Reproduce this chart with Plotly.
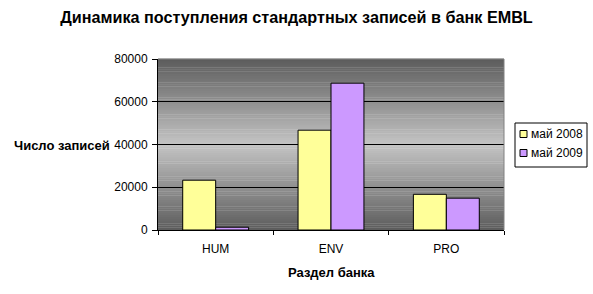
import plotly.graph_objects as go

categories = ["HUM", "ENV", "PRO"]
series_2008 = [23300, 46700, 16700]
series_2009 = [1300, 68700, 14900]
series_names = ["май 2008", "май 2009"]
series_colors = ["#FFFF99", "#CC99FF"]
y_ticks = [0, 20000, 40000, 60000, 80000]

FONT = "Liberation Sans, Arial, sans-serif"

# plot area in pixels (for converting layout positions to paper coords)
L, R, T, B = 158, 504, 59, 230
W, H = 593, 294
def px(xp):
    return (xp - L) / (R - L)
def py(yp):
    return (B - yp) / (B - T)

fig = go.Figure()
for name, vals, col in zip(series_names, [series_2008, series_2009], series_colors):
    fig.add_trace(go.Bar(x=categories, y=vals, name=name, showlegend=False,
                         marker=dict(color=col, line=dict(color="black", width=1))))

# gradient background (dark at edges, light at centre)
shapes = []
N = 80
dark, light = 92, 196
for i in range(N):
    y0 = i / N
    y1 = (i + 1) / N
    t = abs((y0 + y1) / 2 - 0.5) * 2
    v = int(round(light + (dark - light) * t))
    shapes.append(dict(type="rect", xref="x domain", yref="y domain",
                       x0=0, x1=1, y0=y0, y1=y1 + 0.002,
                       fillcolor=f"rgb({v},{v},{v})", line=dict(width=0),
                       layer="below"))
# gray border top & right
shapes.append(dict(type="line", xref="x domain", yref="y domain", x0=0, x1=1, y0=1, y1=1,
                   line=dict(color="#808080", width=1), layer="above"))
shapes.append(dict(type="line", xref="x domain", yref="y domain", x0=1, x1=1, y0=0, y1=1,
                   line=dict(color="#808080", width=1), layer="above"))

annotations = [
    dict(text="<b>Число записей</b>", xref="paper", yref="paper",
         x=px(12), y=py(145), xanchor="left", yanchor="middle",
         showarrow=False, font=dict(size=13, family=FONT)),
    dict(text="<b>Раздел банка</b>", xref="paper", yref="paper",
         x=0.5, y=py(272.5), xanchor="center", yanchor="middle",
         showarrow=False, font=dict(size=13, family=FONT)),
]

# manual legend
shapes.append(dict(type="rect", xref="paper", yref="paper",
                   x0=px(515), x1=px(587), y0=py(167), y1=py(123),
                   fillcolor="white", line=dict(color="black", width=1), layer="above"))
for i, (name, col) in enumerate(zip(series_names, series_colors)):
    cy = 134 + i * 19
    shapes.append(dict(type="rect", xref="paper", yref="paper",
                       x0=px(520), x1=px(527), y0=py(cy + 3.5), y1=py(cy - 3.5),
                       fillcolor=col, line=dict(color="black", width=1), layer="above"))
    annotations.append(dict(text=name, xref="paper", yref="paper",
                            x=px(528.5), y=py(cy), xanchor="left", yanchor="middle",
                            showarrow=False, font=dict(size=12, family=FONT)))

fig.update_layout(
    width=W, height=H,
    margin=dict(l=L, r=W - R, t=T, b=H - B, autoexpand=False),
    paper_bgcolor="white",
    plot_bgcolor="rgba(0,0,0,0)",
    font=dict(family=FONT, size=12, color="black"),
    barmode="group",
    bargap=1.5 / 3.5,
    bargroupgap=0,
    showlegend=False,
    shapes=shapes,
    annotations=annotations,
    title=dict(text="<b>Динамика поступления стандартных записей в банк EMBL</b>",
               font=dict(size=16.2, family=FONT, color="black"),
               x=0.5, xref="container", xanchor="center",
               y=1 - 17 / H, yref="container", yanchor="middle"),
)
fig.update_xaxes(showline=True, linecolor="black", linewidth=1,
                 ticks="outside", tickson="boundaries", ticklen=4, tickcolor="black",
                 showgrid=False, ticklabelstandoff=8)
fig.update_yaxes(range=[0, 80000], tickvals=y_ticks, ticktext=[str(v) for v in y_ticks],
                 showline=True, linecolor="black", linewidth=1,
                 ticks="outside", ticklen=5, tickcolor="black",
                 showgrid=True, gridcolor="black", gridwidth=1, zeroline=False,
                 ticklabelstandoff=2)

fig.write_html("out.html")
